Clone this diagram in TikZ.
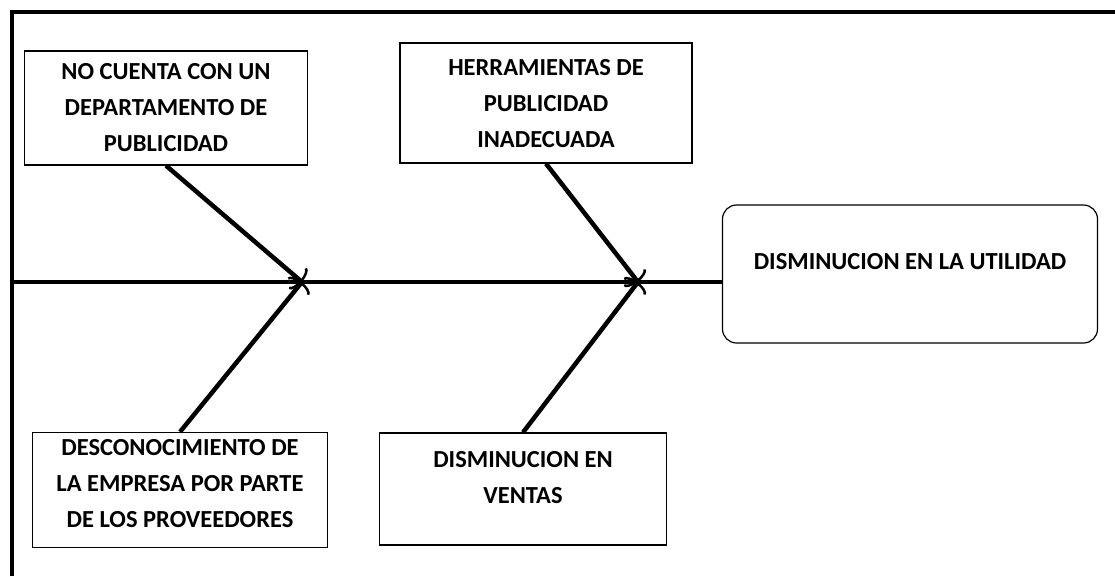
\documentclass[tikz,border=0pt]{standalone}
\usepackage{fontspec}
\setmainfont{Carlito}
\usetikzlibrary{arrows.meta}
\begin{document}
\begin{tikzpicture}[x=1pt,y=-1pt,
  cbox/.style={draw=black, line width=1.2pt, inner sep=0pt},
  txt/.style={font=\fontsize{24.5}{36}\selectfont\bfseries, align=center, inner sep=0pt},
  bone/.style={line width=4pt, draw=black},
  branch/.style={line width=4.5pt, draw=black, -{Arc Barb[length=6pt,width=28pt,line width=2.5pt]}}]
\useasboundingbox (0,0) rectangle (1115,576);
% frame (top and left only)
\coordinate (ftl) at (12,12);
\coordinate (ftr) at (1115,12);
\coordinate (fbl) at (12,576);
\draw[line width=4pt] (fbl) -- (ftl) -- (ftr);
% boxes
\node[cbox, minimum width=283pt, minimum height=114pt] (b1) at (166,108) {};
\node[txt] (t1) at (166,108) {NO CUENTA CON UN\\DEPARTAMENTO DE\\PUBLICIDAD};
\node[cbox, minimum width=292pt, minimum height=120pt] (b2) at (546,103) {};
\node[txt] (t2) at (546,104) {HERRAMIENTAS DE\\PUBLICIDAD\\INADECUADA};
\node[cbox, rounded corners=14pt, minimum width=375pt, minimum height=138pt] (b3) at (910,274) {};
\node[txt] (t3) at (910,262) {DISMINUCION EN LA UTILIDAD};
\node[cbox, minimum width=295pt, minimum height=115pt] (b4) at (180,490) {};
\node[txt] (t4) at (180,484) {DESCONOCIMIENTO DE\\LA EMPRESA POR PARTE\\DE LOS PROVEEDORES};
\node[cbox, minimum width=287pt, minimum height=112pt] (b5) at (523,489) {};
\node[txt] (t5) at (523,478) {DISMINUCION EN\\VENTAS};
% spine
\coordinate (s0) at (12,282);
\coordinate (j1) at (302,282);
\coordinate (j2) at (638,282);
\draw[bone] (s0) -- (s0 -| b3.west);
% branches
\draw[branch] (b1.south) -- (j1);
\draw[branch] (b4.north) -- (j1);
\draw[branch] (b2.south) -- (j2);
\draw[branch] (b5.north) -- (j2);
\end{tikzpicture}
\end{document}
